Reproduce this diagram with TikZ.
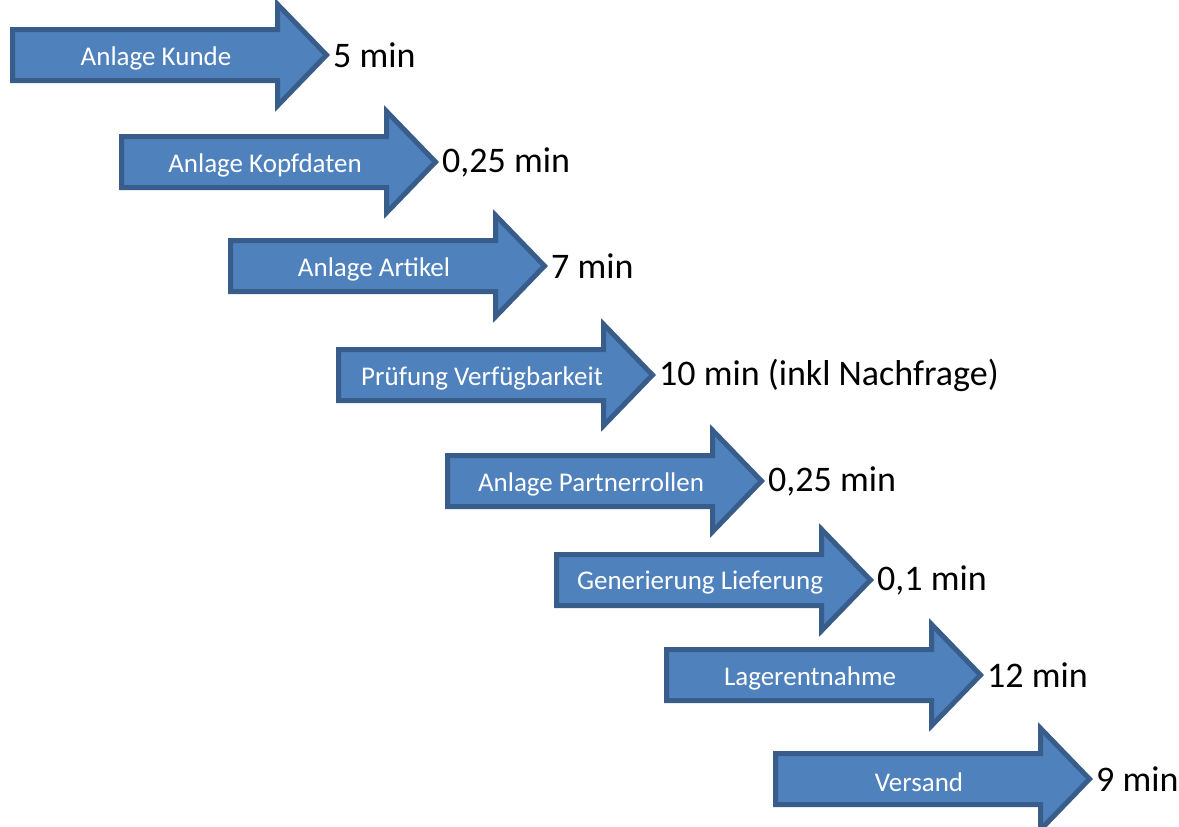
\documentclass[tikz,border=0pt]{standalone}
\usepackage{fontspec}
\setmainfont{Carlito}
\usetikzlibrary{shapes.arrows}

\definecolor{stepfill}{HTML}{4F81BD}
\definecolor{stepline}{HTML}{385D8A}

\tikzset{
    steparrow/.style={single arrow, draw=stepline, fill=stepfill, line width=5pt,
        inner xsep=0pt, inner ysep=23pt, minimum height=314pt,
        single arrow head extend=25pt, single arrow tip angle=92, anchor=tail},
    steplabel/.style={text=white, font=\fontsize{27}{32}\selectfont, inner sep=0pt},
    steptime/.style={anchor=west, font=\fontsize{36}{43}\selectfont, inner sep=2pt}
}

\begin{document}
\begin{tikzpicture}[x=1pt, y=-1pt]
        \useasboundingbox (0,0) rectangle (1179,827);

        \foreach \i/\xl/\yc/\name/\time in {
            1/10/55/Anlage Kunde/5 min,
            2/119/162/Anlage Kopfdaten/{0,25 min},
            3/228/266/Anlage Artikel/7 min,
            4/336/375/Prüfung Verfügbarkeit/10 min (inkl Nachfrage),
            5/445/481/Anlage Partnerrollen/{0,25 min},
            6/554/580/Generierung Lieferung/{0,1 min},
            7/664/675/Lagerentnahme/12 min,
            8/773/779/Versand/9 min}
        {
            \node[steparrow] (arrow\i) at (\xl,\yc) {};
            \node[steplabel] (label\i) at ([xshift=146pt, yshift=-3pt]arrow\i.tail) {\name};
            \node[steptime] (time\i) at ([xshift=1pt]arrow\i.tip) {\time};
        }
    \end{tikzpicture}
\end{document}
